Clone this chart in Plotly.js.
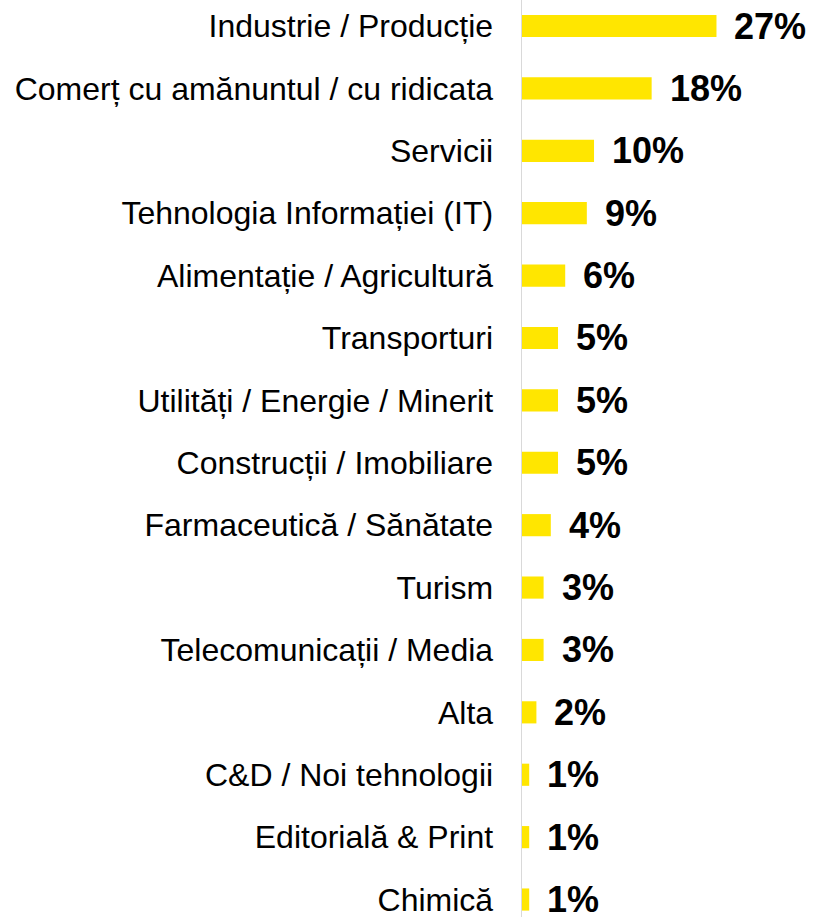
<!DOCTYPE html>
<html>
<head>
<meta charset="utf-8">
<script src="https://cdn.plot.ly/plotly-3.0.1.min.js"></script>
<style>html,body{margin:0;padding:0;background:#fff;}#chart{width:813px;height:917px;}</style>
</head>
<body>
<div id="chart"></div>
<script>
const categories = [
  "Industrie / Producție",
  "Comerț cu amănuntul / cu ridicata",
  "Servicii",
  "Tehnologia Informației (IT)",
  "Alimentație / Agricultură",
  "Transporturi",
  "Utilități / Energie / Minerit",
  "Construcții / Imobiliare",
  "Farmaceutică / Sănătate",
  "Turism",
  "Telecomunicații / Media",
  "Alta",
  "C&D / Noi tehnologii",
  "Editorială & Print",
  "Chimică"
];
const values = [27, 18, 10, 9, 6, 5, 5, 5, 4, 3, 3, 2, 1, 1, 1];
const valueLabels = values.map(v => v + "%");

const trace = {
  type: "bar",
  orientation: "h",
  y: categories,
  x: values,
  marker: {color: "#FFE600"},
  hoverinfo: "none"
};

const annotations = categories.map((c, i) => ({
  x: values[i], y: c, xref: "x", yref: "y",
  text: valueLabels[i], showarrow: false,
  xanchor: "left", yanchor: "middle", xshift: 16, yshift: 0,
  font: {family: "Liberation Sans, Arial, sans-serif", size: 36, color: "#000", weight: "bold"}
}));

const layout = {
  width: 813, height: 917,
  margin: {l: 522, r: 0, t: 0, b: 0, pad: 0},
  paper_bgcolor: "#fff", plot_bgcolor: "#fff",
  showlegend: false,
  bargap: 0.645,
  xaxis: {range: [0, 40.4], showgrid: false, zeroline: false, showticklabels: false, ticks: "", fixedrange: true},
  yaxis: {
    type: "category",
    range: [14.28, -0.417],
    showgrid: false, zeroline: false,
    showline: true, linecolor: "#d9d9d9", linewidth: 1.5,
    ticks: "outside", ticklen: 21, tickcolor: "rgba(0,0,0,0)",
    tickfont: {family: "Liberation Sans, Arial, sans-serif", size: 32, color: "#000"}
  },
  annotations: annotations
};

Plotly.newPlot("chart", [trace], layout, {displayModeBar: false, staticPlot: true});
</script>
</body>
</html>
